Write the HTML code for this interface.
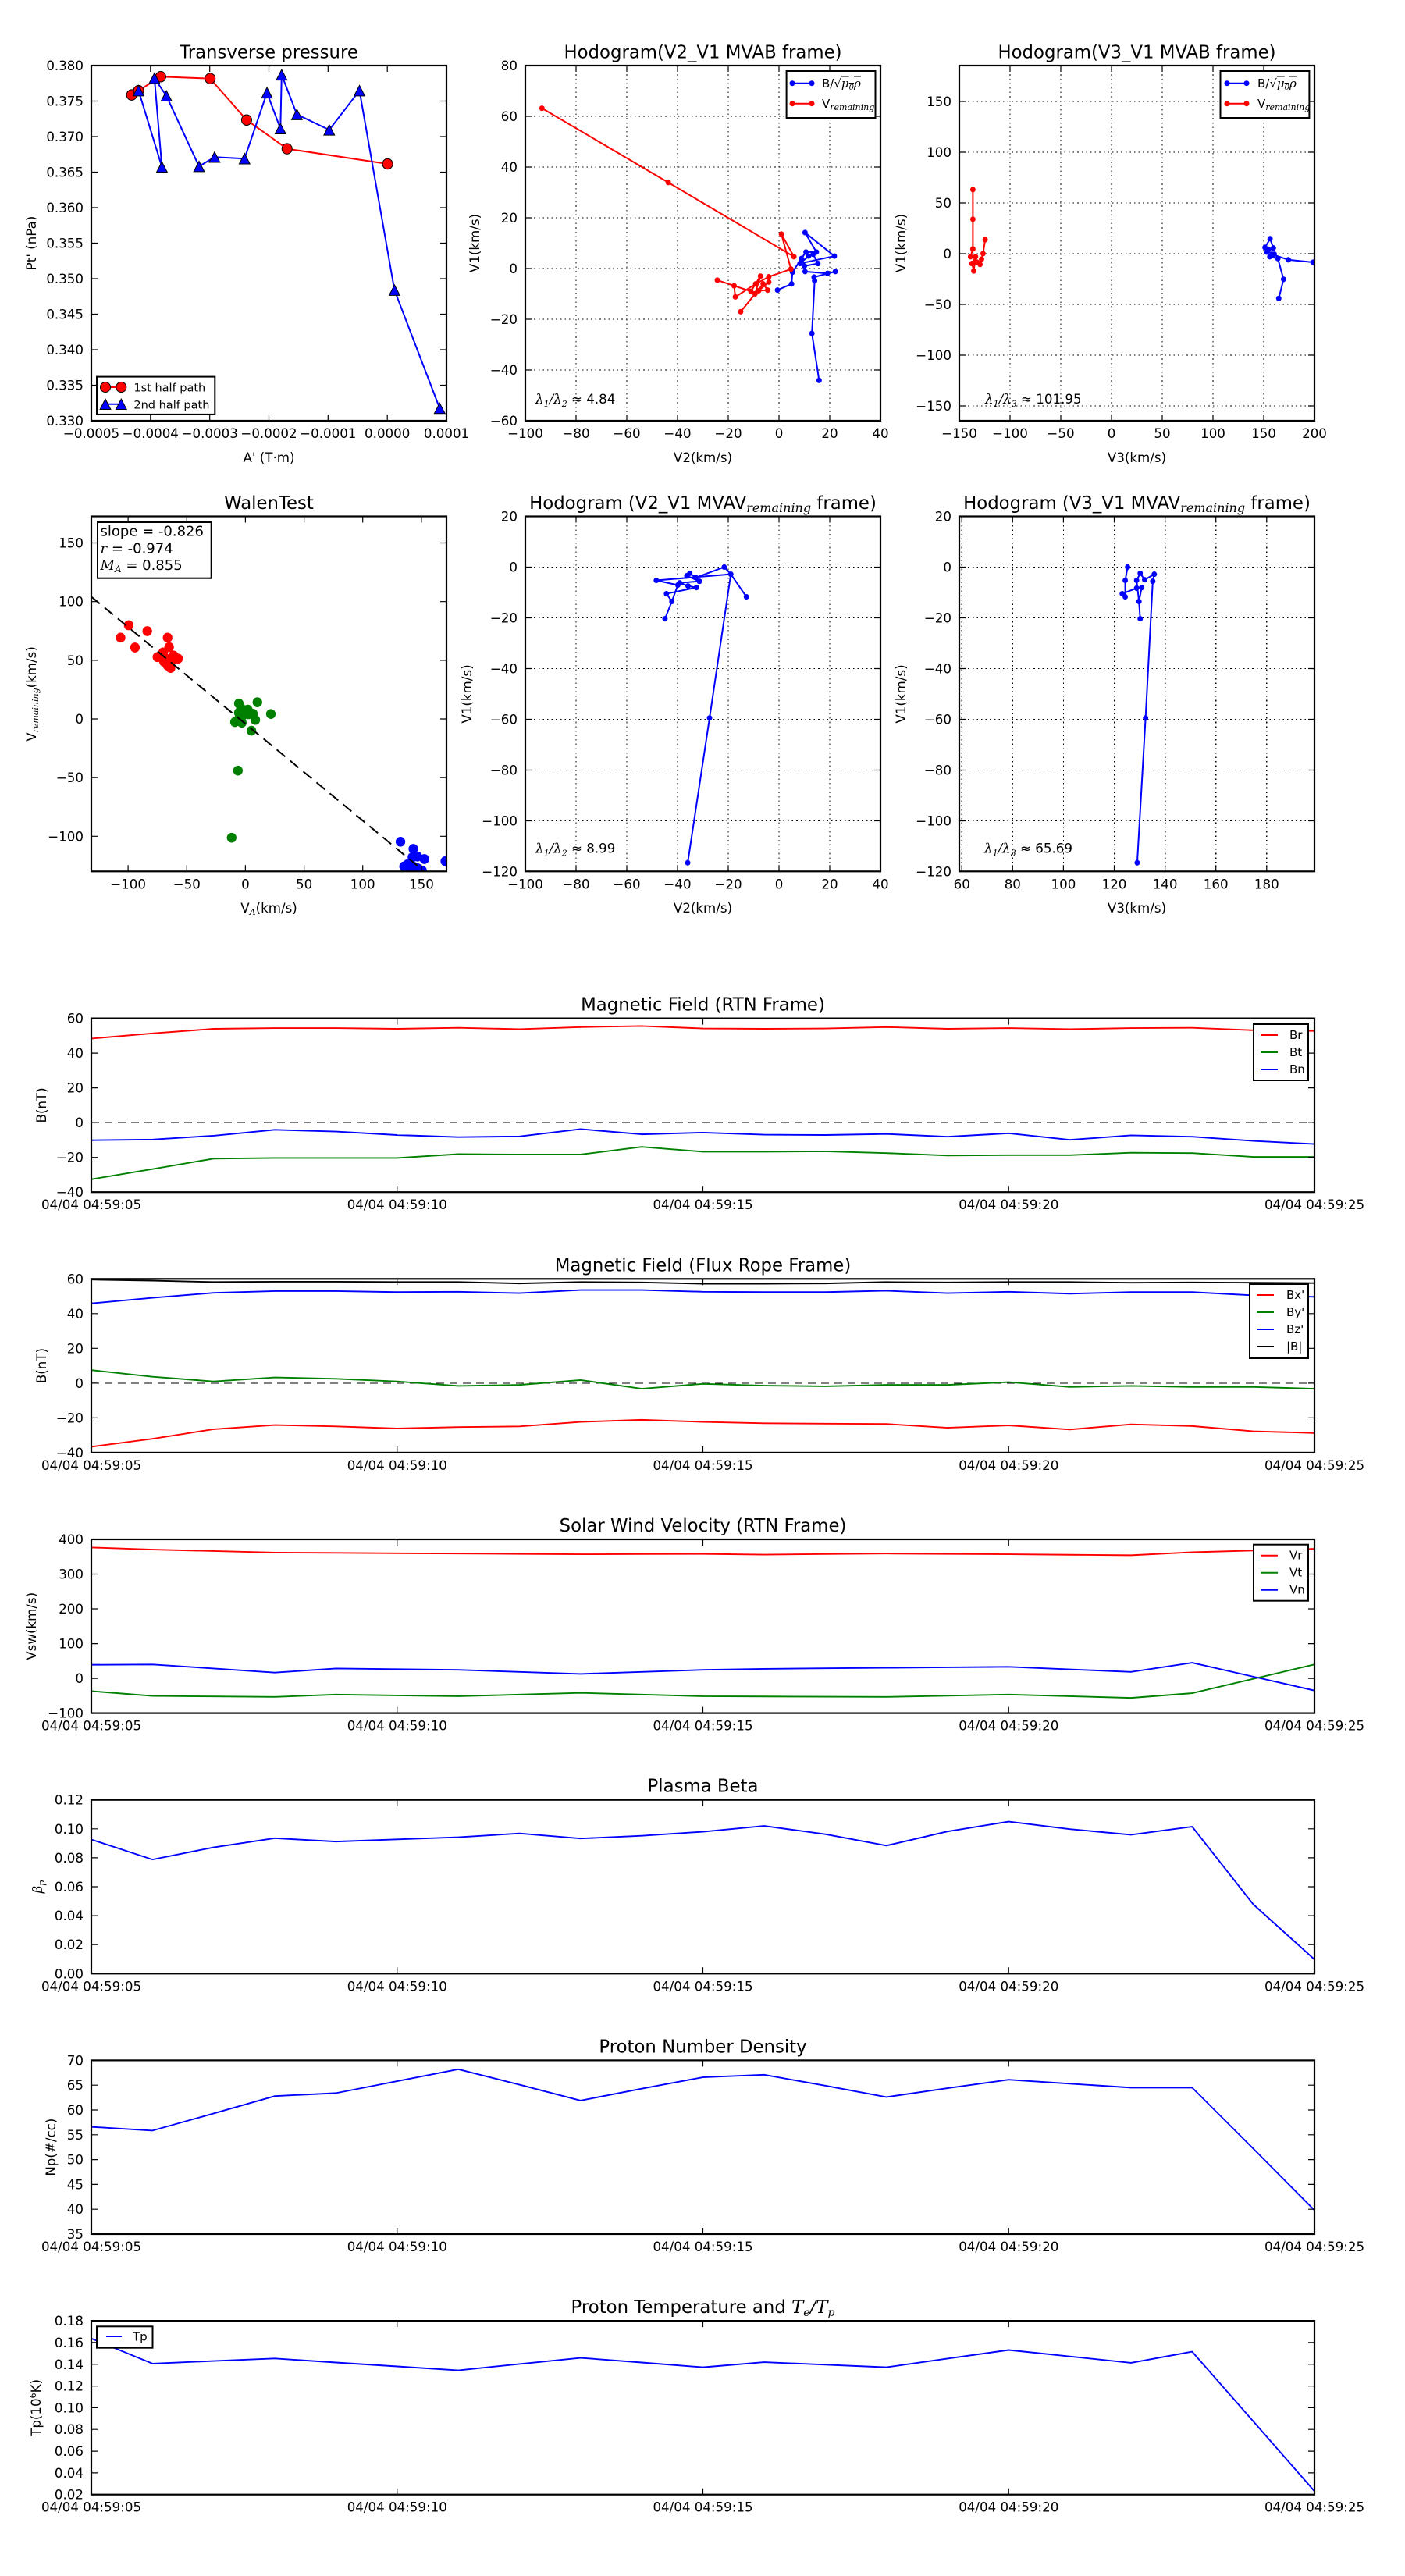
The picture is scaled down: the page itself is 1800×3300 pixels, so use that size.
<!DOCTYPE html>
<html><head><meta charset="utf-8"><style>
html,body{margin:0;padding:0;background:#fff}
svg{display:block}
text{font-family:"DejaVu Sans","Liberation Sans",sans-serif;font-size:16.67px;fill:#000}
.c{text-anchor:middle}.e{text-anchor:end}
.ttl{font-size:22.8px;text-anchor:middle}
.m{font-family:"DejaVu Serif","Liberation Serif",serif;font-style:italic}
.lg{font-size:15px}
.ax{fill:none;stroke:#000;stroke-width:2.2}
.tk{fill:none;stroke:#000;stroke-width:1.2}
.gd{fill:none;stroke:#000;stroke-width:1.3;stroke-dasharray:1.6 4;shape-rendering:crispEdges}
.zl{stroke:#000;stroke-width:1.3;stroke-dasharray:10 7;shape-rendering:crispEdges}
.ln{fill:none;stroke-width:1.9;vector-effect:non-scaling-stroke;stroke-linejoin:round}
.lw{fill:none;stroke-width:2;vector-effect:non-scaling-stroke;stroke-linejoin:round}
.r{stroke:#f00}.g{stroke:#008000}.b{stroke:#00f}.k{stroke:#000}
</style></head><body>
<svg xmlns="http://www.w3.org/2000/svg" width="1800" height="3300" viewBox="0 0 1800 3300">
<rect width="1800" height="3300" fill="#fff"/>
<defs>
<clipPath id="c1"><rect x="117" y="84" width="455" height="455"/></clipPath>
<clipPath id="c2"><rect x="673" y="84" width="455" height="455"/></clipPath>
<clipPath id="c3"><rect x="1229" y="84" width="455" height="455"/></clipPath>
<clipPath id="c4"><rect x="117" y="661.5" width="455" height="454.8"/></clipPath>
<clipPath id="c5"><rect x="673" y="661.5" width="455" height="454.8"/></clipPath>
<clipPath id="c6"><rect x="1229" y="661.5" width="455" height="454.8"/></clipPath>
<clipPath id="t1"><rect x="117" y="1304.6" width="1567" height="222.6"/></clipPath>
<clipPath id="t2"><rect x="117" y="1638.3" width="1567" height="222.6"/></clipPath>
<clipPath id="t3"><rect x="117" y="1972.0" width="1567" height="222.6"/></clipPath>
<clipPath id="t4"><rect x="117" y="2305.7" width="1567" height="222.6"/></clipPath>
<clipPath id="t5"><rect x="117" y="2639.4" width="1567" height="222.6"/></clipPath>
<clipPath id="t6"><rect x="117" y="2973.1" width="1567" height="222.6"/></clipPath>
<circle id="mc" r="17" fill="#f00" stroke="#000" stroke-width="1" vector-effect="non-scaling-stroke"/>
<path id="mt" d="M0,-17L-18,17L18,17Z" fill="#00f" stroke="#000" stroke-width="1" vector-effect="non-scaling-stroke"/>
<circle id="db" r="9" fill="#00f"/>
<circle id="dr" r="9" fill="#f00"/>
<circle id="wr" r="16" fill="#f00"/>
<circle id="wg" r="16" fill="#008000"/>
<circle id="wb" r="16" fill="#00f"/>
</defs>

<!-- ================= PANEL 1: Transverse pressure ================= -->
<text class="ttl" x="344.5" y="74.5">Transverse pressure</text>
<g clip-path="url(#c1)"><g transform="translate(0,0) scale(0.38344,0.39620)">
<polyline class="lw r" points="440,307 463,293 537,248 702,254 824,388 959,481 1295,530"/>
<use href="#mc" x="440" y="307"/><use href="#mc" x="463" y="293"/><use href="#mc" x="537" y="248"/><use href="#mc" x="702" y="254"/><use href="#mc" x="824" y="388"/><use href="#mc" x="959" y="481"/><use href="#mc" x="1295" y="530"/>
<polyline class="lw b" points="463,293 541,540 516,253 556,310 665,538 717,508 817,513 892,300 937,416 941,242 992,370 1100,420 1201,293 1318,938 1469,1320"/>
<use href="#mt" x="463" y="293"/><use href="#mt" x="541" y="540"/><use href="#mt" x="516" y="253"/><use href="#mt" x="556" y="310"/><use href="#mt" x="665" y="538"/><use href="#mt" x="717" y="508"/><use href="#mt" x="817" y="513"/><use href="#mt" x="892" y="300"/><use href="#mt" x="937" y="416"/><use href="#mt" x="941" y="242"/><use href="#mt" x="992" y="370"/><use href="#mt" x="1100" y="420"/><use href="#mt" x="1201" y="293"/><use href="#mt" x="1318" y="938"/><use href="#mt" x="1469" y="1320"/>
</g></g>
<path class="tk" d="M117 539v-8M192.8 539v-8M268.7 539v-8M344.5 539v-8M420.3 539v-8M496.2 539v-8M572 539v-8M117 84v8M192.8 84v8M268.7 84v8M344.5 84v8M420.3 84v8M496.2 84v8M572 84v8M117 539h8M117 493.5h8M117 448h8M117 402.5h8M117 357h8M117 311.5h8M117 266h8M117 220.5h8M117 175h8M117 129.5h8M117 84h8M572 539h-8M572 493.5h-8M572 448h-8M572 402.5h-8M572 357h-8M572 311.5h-8M572 266h-8M572 220.5h-8M572 175h-8M572 129.5h-8M572 84h-8"/>
<rect class="ax" x="117" y="84" width="455" height="455"/>
<g>
<rect x="124" y="482.6" width="151.3" height="48.3" fill="#fff" stroke="#000" stroke-width="2"/>
<line x1="135" y1="496" x2="155.3" y2="496" stroke="#f00" stroke-width="2"/>
<circle cx="135" cy="496" r="6.5" fill="#f00" stroke="#000" stroke-width="1"/><circle cx="155.3" cy="496" r="6.5" fill="#f00" stroke="#000" stroke-width="1"/>
<text x="171.4" y="501.5" style="font-size:14.5px">1st half path</text>
<line x1="135" y1="517.8" x2="155.3" y2="517.8" stroke="#00f" stroke-width="2"/>
<path d="M135,511.1L128.1,524.5L141.9,524.5ZM155.3,511.1L148.4,524.5L162.2,524.5Z" fill="#00f" stroke="#000" stroke-width="1"/>
<text x="171.4" y="523.3" style="font-size:14.5px">2nd half path</text>
</g>
<text class="c" x="117" y="561">&#8722;0.0005</text><text class="c" x="192.8" y="561">&#8722;0.0004</text><text class="c" x="268.7" y="561">&#8722;0.0003</text><text class="c" x="344.5" y="561">&#8722;0.0002</text><text class="c" x="420.3" y="561">&#8722;0.0001</text><text class="c" x="496.2" y="561">0.0000</text><text class="c" x="572" y="561">0.0001</text>
<text class="e" x="107" y="545">0.330</text><text class="e" x="107" y="499.5">0.335</text><text class="e" x="107" y="454">0.340</text><text class="e" x="107" y="408.5">0.345</text><text class="e" x="107" y="363">0.350</text><text class="e" x="107" y="317.5">0.355</text><text class="e" x="107" y="272">0.360</text><text class="e" x="107" y="226.5">0.365</text><text class="e" x="107" y="181">0.370</text><text class="e" x="107" y="135.5">0.375</text><text class="e" x="107" y="90">0.380</text>
<text class="c" x="344.5" y="592">A' (T&#183;m)</text>
<text class="c" transform="translate(40,311.5) rotate(-90)" y="6">Pt' (nPa)</text>

<!-- ================= PANEL 2: Hodogram V2_V1 MVAB ================= -->
<text class="ttl" x="900.5" y="74.5">Hodogram(V2_V1 MVAB frame)</text>
<path class="gd" d="M738 84V539M803 84V539M868 84V539M933 84V539M998 84V539M1063 84V539M673 149H1128M673 214H1128M673 279H1128M673 344H1128M673 409H1128M673 474H1128"/>
<g clip-path="url(#c2)"><g transform="translate(600,0) scale(0.38344,0.39620)">
<polyline class="lw b" points="1033,938 1080,918 1083,880 1113,836 1128,815 1163,815 1125,752 1223,828 1108,852 1137,828 1152,822 1168,852 1123,860 1125,878 1200,884 1226,878 1155,896 1157,908 1148,1078 1172,1230"/>
<use href="#db" x="1033" y="938"/><use href="#db" x="1080" y="918"/><use href="#db" x="1083" y="880"/><use href="#db" x="1113" y="836"/><use href="#db" x="1128" y="815"/><use href="#db" x="1163" y="815"/><use href="#db" x="1125" y="752"/><use href="#db" x="1223" y="828"/><use href="#db" x="1108" y="852"/><use href="#db" x="1137" y="828"/><use href="#db" x="1152" y="822"/><use href="#db" x="1168" y="852"/><use href="#db" x="1123" y="860"/><use href="#db" x="1125" y="878"/><use href="#db" x="1200" y="884"/><use href="#db" x="1226" y="878"/><use href="#db" x="1155" y="896"/><use href="#db" x="1157" y="908"/><use href="#db" x="1148" y="1078"/><use href="#db" x="1172" y="1230"/>
<polyline class="lw r" points="246,350 668,590 1088,830 1046,757 1078,870 1004,895 960,918 892,960 888,924 832,906 944,942 976,893 958,950 910,1008 985,918 1000,938 970,940 1004,912"/>
<use href="#dr" x="246" y="350"/><use href="#dr" x="668" y="590"/><use href="#dr" x="1088" y="830"/><use href="#dr" x="1046" y="757"/><use href="#dr" x="1078" y="870"/><use href="#dr" x="1004" y="895"/><use href="#dr" x="960" y="918"/><use href="#dr" x="892" y="960"/><use href="#dr" x="888" y="924"/><use href="#dr" x="832" y="906"/><use href="#dr" x="944" y="942"/><use href="#dr" x="976" y="893"/><use href="#dr" x="958" y="950"/><use href="#dr" x="910" y="1008"/><use href="#dr" x="985" y="918"/><use href="#dr" x="1000" y="938"/><use href="#dr" x="970" y="940"/><use href="#dr" x="1004" y="912"/>
</g></g>
<path class="tk" d="M673 539v-8M738 539v-8M803 539v-8M868 539v-8M933 539v-8M998 539v-8M1063 539v-8M1128 539v-8M673 84v8M738 84v8M803 84v8M868 84v8M933 84v8M998 84v8M1063 84v8M1128 84v8M673 84h8M673 149h8M673 214h8M673 279h8M673 344h8M673 409h8M673 474h8M673 539h8M1128 84h-8M1128 149h-8M1128 214h-8M1128 279h-8M1128 344h-8M1128 409h-8M1128 474h-8M1128 539h-8"/>
<rect class="ax" x="673" y="84" width="455" height="455"/>
<rect x="1007.6" y="91" width="113.9" height="60" fill="#fff" stroke="#000" stroke-width="2"/>
<line x1="1015" y1="106.7" x2="1040" y2="106.7" stroke="#00f" stroke-width="2"/><circle cx="1015" cy="106.7" r="3.5" fill="#00f"/><circle cx="1040" cy="106.7" r="3.5" fill="#00f"/>
<text class="lg" x="1053" y="112">B/<tspan class="m">&#8730;</tspan><tspan class="m" text-decoration="overline">&#956;<tspan font-size="10" dy="3">0</tspan><tspan dy="-3">&#961;</tspan></tspan></text>
<line x1="1015" y1="132.7" x2="1040" y2="132.7" stroke="#f00" stroke-width="2"/><circle cx="1015" cy="132.7" r="3.5" fill="#f00"/><circle cx="1040" cy="132.7" r="3.5" fill="#f00"/>
<text class="lg" x="1053" y="138">V<tspan class="m" font-size="11" dy="3">remaining</tspan></text>
<text x="686" y="517"><tspan class="m">&#955;</tspan><tspan class="m" font-size="11" dy="4">1</tspan><tspan class="m" dy="-4">/&#955;</tspan><tspan class="m" font-size="11" dy="4">2</tspan><tspan dy="-4"> &#8776; 4.84</tspan></text>
<text class="c" x="673" y="561">&#8722;100</text><text class="c" x="738" y="561">&#8722;80</text><text class="c" x="803" y="561">&#8722;60</text><text class="c" x="868" y="561">&#8722;40</text><text class="c" x="933" y="561">&#8722;20</text><text class="c" x="998" y="561">0</text><text class="c" x="1063" y="561">20</text><text class="c" x="1128" y="561">40</text>
<text class="e" x="663" y="90">80</text><text class="e" x="663" y="155">60</text><text class="e" x="663" y="220">40</text><text class="e" x="663" y="285">20</text><text class="e" x="663" y="350">0</text><text class="e" x="663" y="415">&#8722;20</text><text class="e" x="663" y="480">&#8722;40</text><text class="e" x="663" y="545">&#8722;60</text>
<text class="c" x="900.5" y="592">V2(km/s)</text>
<text class="c" transform="translate(608,311.5) rotate(-90)" y="6">V1(km/s)</text>

<!-- ================= PANEL 3: Hodogram V3_V1 MVAB ================= -->
<text class="ttl" x="1456.5" y="74.5">Hodogram(V3_V1 MVAB frame)</text>
<path class="gd" d="M1294 84V539M1359 84V539M1424 84V539M1489 84V539M1554 84V539M1619 84V539M1229 130H1684M1229 195H1684M1229 260H1684M1229 325H1684M1229 390H1684M1229 455H1684M1229 520H1684"/>
<g clip-path="url(#c3)"><g transform="translate(1200,0) scale(0.38344,0.39620)">
<polyline class="lw b" points="1258,848 1175,840 1120,822 1097,800 1114,772 1125,802 1103,815 1113,830 1140,836 1159,903 1143,965"/>
<use href="#db" x="1258" y="848"/><use href="#db" x="1175" y="840"/><use href="#db" x="1120" y="822"/><use href="#db" x="1097" y="800"/><use href="#db" x="1114" y="772"/><use href="#db" x="1125" y="802"/><use href="#db" x="1103" y="815"/><use href="#db" x="1113" y="830"/><use href="#db" x="1140" y="836"/><use href="#db" x="1159" y="903"/><use href="#db" x="1143" y="965"/><use href="#db" x="1108" y="806"/><use href="#db" x="1128" y="822"/>
<polyline class="lw r" points="121,613 121,709 121,805 113,830 130,830 118,852 124,876 128,845 135,848 145,855 150,838 155,820 162,775"/>
<use href="#dr" x="121" y="613"/><use href="#dr" x="121" y="709"/><use href="#dr" x="121" y="805"/><use href="#dr" x="113" y="830"/><use href="#dr" x="130" y="830"/><use href="#dr" x="118" y="852"/><use href="#dr" x="124" y="876"/><use href="#dr" x="128" y="845"/><use href="#dr" x="135" y="848"/><use href="#dr" x="145" y="855"/><use href="#dr" x="150" y="838"/><use href="#dr" x="155" y="820"/><use href="#dr" x="162" y="775"/>
</g></g>
<path class="tk" d="M1229 539v-8M1294 539v-8M1359 539v-8M1424 539v-8M1489 539v-8M1554 539v-8M1619 539v-8M1684 539v-8M1229 84v8M1294 84v8M1359 84v8M1424 84v8M1489 84v8M1554 84v8M1619 84v8M1684 84v8M1229 130h8M1229 195h8M1229 260h8M1229 325h8M1229 390h8M1229 455h8M1229 520h8M1684 130h-8M1684 195h-8M1684 260h-8M1684 325h-8M1684 390h-8M1684 455h-8M1684 520h-8"/>
<rect class="ax" x="1229" y="84" width="455" height="455"/>
<rect x="1563.5" y="91" width="113.9" height="60" fill="#fff" stroke="#000" stroke-width="2"/>
<line x1="1572" y1="106.7" x2="1597" y2="106.7" stroke="#00f" stroke-width="2"/><circle cx="1572" cy="106.7" r="3.5" fill="#00f"/><circle cx="1597" cy="106.7" r="3.5" fill="#00f"/>
<text class="lg" x="1611" y="112">B/<tspan class="m">&#8730;</tspan><tspan class="m" text-decoration="overline">&#956;<tspan font-size="10" dy="3">0</tspan><tspan dy="-3">&#961;</tspan></tspan></text>
<line x1="1572" y1="132.7" x2="1597" y2="132.7" stroke="#f00" stroke-width="2"/><circle cx="1572" cy="132.7" r="3.5" fill="#f00"/><circle cx="1597" cy="132.7" r="3.5" fill="#f00"/>
<text class="lg" x="1611" y="138">V<tspan class="m" font-size="11" dy="3">remaining</tspan></text>
<text x="1262" y="517"><tspan class="m">&#955;</tspan><tspan class="m" font-size="11" dy="4">1</tspan><tspan class="m" dy="-4">/&#955;</tspan><tspan class="m" font-size="11" dy="4">3</tspan><tspan dy="-4"> &#8776; 101.95</tspan></text>
<text class="c" x="1229" y="561">&#8722;150</text><text class="c" x="1294" y="561">&#8722;100</text><text class="c" x="1359" y="561">&#8722;50</text><text class="c" x="1424" y="561">0</text><text class="c" x="1489" y="561">50</text><text class="c" x="1554" y="561">100</text><text class="c" x="1619" y="561">150</text><text class="c" x="1684" y="561">200</text>
<text class="e" x="1219" y="136">150</text><text class="e" x="1219" y="201">100</text><text class="e" x="1219" y="266">50</text><text class="e" x="1219" y="331">0</text><text class="e" x="1219" y="396">&#8722;50</text><text class="e" x="1219" y="461">&#8722;100</text><text class="e" x="1219" y="526">&#8722;150</text>
<text class="c" x="1456.5" y="592">V3(km/s)</text>
<text class="c" transform="translate(1154,311.5) rotate(-90)" y="6">V1(km/s)</text>

<!-- ================= PANEL 4: WalenTest ================= -->
<text class="ttl" x="344.5" y="652">WalenTest</text>
<g clip-path="url(#c4)">
<g transform="translate(0,610) scale(0.38344,0.39620)">
<use href="#wr" x="403" y="522"/><use href="#wr" x="430" y="482"/><use href="#wr" x="492" y="501"/><use href="#wr" x="451" y="554"/><use href="#wr" x="560" y="522"/><use href="#wr" x="565" y="553"/><use href="#wr" x="526" y="585"/><use href="#wr" x="545" y="570"/><use href="#wr" x="555" y="590"/><use href="#wr" x="580" y="580"/><use href="#wr" x="595" y="590"/><use href="#wr" x="560" y="612"/><use href="#wr" x="570" y="620"/><use href="#wr" x="548" y="600"/><use href="#wr" x="540" y="580"/><use href="#wr" x="575" y="595"/>
<use href="#wg" x="798" y="735"/><use href="#wg" x="860" y="731"/><use href="#wg" x="905" y="769"/><use href="#wg" x="785" y="795"/><use href="#wg" x="808" y="797"/><use href="#wg" x="853" y="788"/><use href="#wg" x="840" y="823"/><use href="#wg" x="795" y="952"/><use href="#wg" x="774" y="1169"/><use href="#wg" x="805" y="750"/><use href="#wg" x="815" y="760"/><use href="#wg" x="828" y="755"/><use href="#wg" x="845" y="768"/><use href="#wg" x="798" y="765"/><use href="#wg" x="810" y="775"/><use href="#wg" x="830" y="770"/><use href="#wg" x="800" y="780"/>
<use href="#wb" x="1338" y="1182"/><use href="#wb" x="1381" y="1205"/><use href="#wb" x="1378" y="1232"/><use href="#wb" x="1395" y="1230"/><use href="#wb" x="1418" y="1238"/><use href="#wb" x="1488" y="1245"/><use href="#wb" x="1362" y="1255"/><use href="#wb" x="1380" y="1262"/><use href="#wb" x="1395" y="1268"/><use href="#wb" x="1360" y="1270"/><use href="#wb" x="1372" y="1275"/><use href="#wb" x="1350" y="1262"/><use href="#wb" x="1410" y="1275"/>
</g>
<line x1="117" y1="764.4" x2="546" y2="1118.3" stroke="#000" stroke-width="2" stroke-dasharray="14 8"/>
</g>
<path class="tk" d="M164.1 1116.3v-8M239.3 1116.3v-8M314.4 1116.3v-8M389.6 1116.3v-8M464.7 1116.3v-8M539.9 1116.3v-8M164.1 661.5v8M239.3 661.5v8M314.4 661.5v8M389.6 661.5v8M464.7 661.5v8M539.9 661.5v8M117 695.5h8M117 770.7h8M117 845.9h8M117 921h8M117 996.2h8M117 1071.3h8M572 695.5h-8M572 770.7h-8M572 845.9h-8M572 921h-8M572 996.2h-8M572 1071.3h-8"/>
<rect class="ax" x="117" y="661.5" width="455" height="454.8"/>
<rect x="125" y="669" width="145.7" height="71.7" fill="#fff" stroke="#000" stroke-width="2"/>
<text x="128.5" y="686.5" style="font-size:18px">slope = -0.826</text>
<text x="128.5" y="708.3" style="font-size:18px"><tspan class="m">r</tspan> = -0.974</text>
<text x="128.5" y="730" style="font-size:18px"><tspan class="m">M</tspan><tspan class="m" font-size="12" dy="3">A</tspan><tspan dy="-3"> = 0.855</tspan></text>
<text class="c" x="164.1" y="1138.3">&#8722;100</text><text class="c" x="239.3" y="1138.3">&#8722;50</text><text class="c" x="314.4" y="1138.3">0</text><text class="c" x="389.6" y="1138.3">50</text><text class="c" x="464.7" y="1138.3">100</text><text class="c" x="539.9" y="1138.3">150</text>
<text class="e" x="107" y="701.5">150</text><text class="e" x="107" y="776.7">100</text><text class="e" x="107" y="851.9">50</text><text class="e" x="107" y="927">0</text><text class="e" x="107" y="1002.2">&#8722;50</text><text class="e" x="107" y="1077.3">&#8722;100</text>
<text class="c" x="344.5" y="1169">V<tspan class="m" font-size="11" dy="3">A</tspan><tspan dy="-3">(km/s)</tspan></text>
<text class="c" transform="translate(40,889) rotate(-90)" y="6">V<tspan class="m" font-size="11" dy="3">remaining</tspan><tspan dy="-3">(km/s)</tspan></text>

<!-- ================= PANEL 5: Hodogram V2_V1 MVAV ================= -->
<text class="ttl" x="900.5" y="652">Hodogram (V2_V1 MVAV<tspan class="m" font-size="16" dy="4">remaining</tspan><tspan dy="-4"> frame)</tspan></text>
<path class="gd" d="M738 661.5V1116.3M803 661.5V1116.3M868 661.5V1116.3M933 661.5V1116.3M998 661.5V1116.3M1063 661.5V1116.3M673 726.5H1128M673 791.5H1128M673 856.5H1128M673 921.5H1128M673 986.5H1128M673 1051.5H1128"/>
<g clip-path="url(#c5)"><g transform="translate(600,610) scale(0.38344,0.39620)">
<polyline class="lw b" points="929,390 877,317 855,294 760,328 740,314 730,322 772,340 706,345 734,355 762,360 662,380 680,405 657,461 680,405 700,352 628,337 877,317 806,782 733,1250"/>
<use href="#db" x="929" y="390"/><use href="#db" x="877" y="317"/><use href="#db" x="855" y="294"/><use href="#db" x="760" y="328"/><use href="#db" x="740" y="314"/><use href="#db" x="730" y="322"/><use href="#db" x="772" y="340"/><use href="#db" x="706" y="345"/><use href="#db" x="734" y="355"/><use href="#db" x="762" y="360"/><use href="#db" x="662" y="380"/><use href="#db" x="680" y="405"/><use href="#db" x="657" y="461"/><use href="#db" x="700" y="352"/><use href="#db" x="628" y="337"/><use href="#db" x="806" y="782"/><use href="#db" x="733" y="1250"/>
</g></g>
<path class="tk" d="M673 1116.3v-8M738 1116.3v-8M803 1116.3v-8M868 1116.3v-8M933 1116.3v-8M998 1116.3v-8M1063 1116.3v-8M1128 1116.3v-8M673 661.5v8M738 661.5v8M803 661.5v8M868 661.5v8M933 661.5v8M998 661.5v8M1063 661.5v8M1128 661.5v8M673 726.5h8M673 791.5h8M673 856.5h8M673 921.5h8M673 986.5h8M673 1051.5h8M1128 726.5h-8M1128 791.5h-8M1128 856.5h-8M1128 921.5h-8M1128 986.5h-8M1128 1051.5h-8"/>
<rect class="ax" x="673" y="661.5" width="455" height="454.8"/>
<text x="686" y="1092.6"><tspan class="m">&#955;</tspan><tspan class="m" font-size="11" dy="4">1</tspan><tspan class="m" dy="-4">/&#955;</tspan><tspan class="m" font-size="11" dy="4">2</tspan><tspan dy="-4"> &#8776; 8.99</tspan></text>
<text class="c" x="673" y="1138.3">&#8722;100</text><text class="c" x="738" y="1138.3">&#8722;80</text><text class="c" x="803" y="1138.3">&#8722;60</text><text class="c" x="868" y="1138.3">&#8722;40</text><text class="c" x="933" y="1138.3">&#8722;20</text><text class="c" x="998" y="1138.3">0</text><text class="c" x="1063" y="1138.3">20</text><text class="c" x="1128" y="1138.3">40</text>
<text class="e" x="663" y="667.5">20</text><text class="e" x="663" y="732.5">0</text><text class="e" x="663" y="797.5">&#8722;20</text><text class="e" x="663" y="862.5">&#8722;40</text><text class="e" x="663" y="927.5">&#8722;60</text><text class="e" x="663" y="992.5">&#8722;80</text><text class="e" x="663" y="1057.5">&#8722;100</text><text class="e" x="663" y="1122.5">&#8722;120</text>
<text class="c" x="900.5" y="1169">V2(km/s)</text>
<text class="c" transform="translate(598,889) rotate(-90)" y="6">V1(km/s)</text>

<!-- ================= PANEL 6: Hodogram V3_V1 MVAV ================= -->
<text class="ttl" x="1456.5" y="652">Hodogram (V3_V1 MVAV<tspan class="m" font-size="16" dy="4">remaining</tspan><tspan dy="-4"> frame)</tspan></text>
<path class="gd" d="M1232.2 661.5V1116.3M1297.3 661.5V1116.3M1362.4 661.5V1116.3M1427.5 661.5V1116.3M1492.6 661.5V1116.3M1557.7 661.5V1116.3M1622.8 661.5V1116.3M1229 726.5H1684M1229 791.5H1684M1229 856.5H1684M1229 921.5H1684M1229 986.5H1684M1229 1051.5H1684"/>
<g clip-path="url(#c6)"><g transform="translate(1200,610) scale(0.38344,0.39620)">
<polyline class="lw b" points="638,294 630,337 630,390 620,380 668,362 685,360 676,405 680,461 676,405 668,337 680,314 695,335 727,317 722,340 698,782 670,1250"/>
<use href="#db" x="638" y="294"/><use href="#db" x="630" y="337"/><use href="#db" x="630" y="390"/><use href="#db" x="620" y="380"/><use href="#db" x="668" y="362"/><use href="#db" x="685" y="360"/><use href="#db" x="676" y="405"/><use href="#db" x="680" y="461"/><use href="#db" x="668" y="337"/><use href="#db" x="680" y="314"/><use href="#db" x="695" y="335"/><use href="#db" x="727" y="317"/><use href="#db" x="722" y="340"/><use href="#db" x="698" y="782"/><use href="#db" x="670" y="1250"/>
</g></g>
<path class="tk" d="M1232.2 1116.3v-8M1297.3 1116.3v-8M1362.4 1116.3v-8M1427.5 1116.3v-8M1492.6 1116.3v-8M1557.7 1116.3v-8M1622.8 1116.3v-8M1232.2 661.5v8M1297.3 661.5v8M1362.4 661.5v8M1427.5 661.5v8M1492.6 661.5v8M1557.7 661.5v8M1622.8 661.5v8M1229 726.5h8M1229 791.5h8M1229 856.5h8M1229 921.5h8M1229 986.5h8M1229 1051.5h8M1684 726.5h-8M1684 791.5h-8M1684 856.5h-8M1684 921.5h-8M1684 986.5h-8M1684 1051.5h-8"/>
<rect class="ax" x="1229" y="661.5" width="455" height="454.8"/>
<text x="1261" y="1092.6"><tspan class="m">&#955;</tspan><tspan class="m" font-size="11" dy="4">1</tspan><tspan class="m" dy="-4">/&#955;</tspan><tspan class="m" font-size="11" dy="4">3</tspan><tspan dy="-4"> &#8776; 65.69</tspan></text>
<text class="c" x="1232.2" y="1138.3">60</text><text class="c" x="1297.3" y="1138.3">80</text><text class="c" x="1362.4" y="1138.3">100</text><text class="c" x="1427.5" y="1138.3">120</text><text class="c" x="1492.6" y="1138.3">140</text><text class="c" x="1557.7" y="1138.3">160</text><text class="c" x="1622.8" y="1138.3">180</text>
<text class="e" x="1219" y="667.5">20</text><text class="e" x="1219" y="732.5">0</text><text class="e" x="1219" y="797.5">&#8722;20</text><text class="e" x="1219" y="862.5">&#8722;40</text><text class="e" x="1219" y="927.5">&#8722;60</text><text class="e" x="1219" y="992.5">&#8722;80</text><text class="e" x="1219" y="1057.5">&#8722;100</text><text class="e" x="1219" y="1122.5">&#8722;120</text>
<text class="c" x="1456.5" y="1169">V3(km/s)</text>
<text class="c" transform="translate(1154,889) rotate(-90)" y="6">V1(km/s)</text>

<!-- ================= TS1: Magnetic Field (RTN) ================= -->
<text class="ttl" x="900.5" y="1294.6">Magnetic Field (RTN Frame)</text>
<line class="zl" x1="117" y1="1438.2" x2="1684" y2="1438.2"/>
<g clip-path="url(#t1)"><g transform="translate(117,1438.2) scale(78.35,-2.226)">
<polyline class="ln r" points="0,48.4 1,51.4 2,54 3,54.4 4,54.4 5,54 6,54.6 7,53.8 8,55 9,55.6 10,54.2 11,54 12,54.2 13,55 14,54 15,54.4 16,53.8 17,54.4 18,54.6 19,53.2 20,52.8"/>
<polyline class="ln g" points="0,-32.6 1,-26.7 2,-20.7 3,-20.3 4,-20.3 5,-20.3 6,-18.1 7,-18.3 8,-18.3 9,-13.9 10,-16.7 11,-16.7 12,-16.5 13,-17.5 14,-18.9 15,-18.7 16,-18.7 17,-17.3 18,-17.5 19,-19.7 20,-19.7"/>
<polyline class="ln b" points="0,-10.1 1,-9.7 2,-7.5 3,-4.1 4,-5.1 5,-7.1 6,-8.3 7,-7.9 8,-3.7 9,-6.7 10,-5.7 11,-6.9 12,-7.1 13,-6.5 14,-8.1 15,-6.1 16,-9.9 17,-7.3 18,-8.1 19,-10.5 20,-12.3"/>
</g></g>
<path class="tk" d="M117 1527.2v-8M508.75 1527.2v-8M900.5 1527.2v-8M1292.25 1527.2v-8M1684 1527.2v-8M117 1304.6v8M508.75 1304.6v8M900.5 1304.6v8M1292.25 1304.6v8M1684 1304.6v8M117 1349.1h8M117 1393.6h8M117 1438.2h8M117 1482.7h8M1684 1349.1h-8M1684 1393.6h-8M1684 1438.2h-8M1684 1482.7h-8"/>
<rect class="ax" x="117" y="1304.6" width="1567" height="222.6"/>
<rect x="1606" y="1312" width="70" height="72" fill="#fff" stroke="#000" stroke-width="2"/>
<line x1="1615" y1="1326" x2="1637" y2="1326" stroke="#f00" stroke-width="2"/><text class="lg" x="1652" y="1331">Br</text>
<line x1="1615" y1="1348" x2="1637" y2="1348" stroke="#008000" stroke-width="2"/><text class="lg" x="1652" y="1353">Bt</text>
<line x1="1615" y1="1370" x2="1637" y2="1370" stroke="#00f" stroke-width="2"/><text class="lg" x="1652" y="1375">Bn</text>
<text class="e" x="107" y="1310.6">60</text><text class="e" x="107" y="1355.1">40</text><text class="e" x="107" y="1399.6">20</text><text class="e" x="107" y="1444.2">0</text><text class="e" x="107" y="1488.7">&#8722;20</text><text class="e" x="107" y="1533.2">&#8722;40</text>
<text class="c" x="117" y="1549.2">04/04 04:59:05</text><text class="c" x="508.75" y="1549.2">04/04 04:59:10</text><text class="c" x="900.5" y="1549.2">04/04 04:59:15</text><text class="c" x="1292.25" y="1549.2">04/04 04:59:20</text><text class="c" x="1684" y="1549.2">04/04 04:59:25</text>
<text class="c" transform="translate(53,1415.9) rotate(-90)" y="6">B(nT)</text>

<!-- ================= TS2: Magnetic Field (Flux Rope) ================= -->
<text class="ttl" x="900.5" y="1628.3">Magnetic Field (Flux Rope Frame)</text>
<line class="zl" x1="117" y1="1771.9" x2="1684" y2="1771.9"/>
<g clip-path="url(#t2)"><g transform="translate(117,1771.9) scale(78.35,-2.226)">
<polyline class="ln r" points="0,-36.6 1,-32 2,-26.5 3,-24.1 4,-24.9 5,-26.1 6,-25.3 7,-24.9 8,-22.3 9,-21.1 10,-22.3 11,-23.1 12,-23.3 13,-23.5 14,-25.7 15,-24.3 16,-26.7 17,-23.7 18,-24.7 19,-27.7 20,-28.7"/>
<polyline class="ln g" points="0,7.5 1,3.7 2,1 3,3.3 4,2.5 5,1 6,-1.6 7,-1 8,1.8 9,-3.2 10,-0.4 11,-1.4 12,-1.8 13,-1 14,-1 15,0.6 16,-2.2 17,-1.6 18,-2.2 19,-2.2 20,-3.2"/>
<polyline class="ln b" points="0,45.9 1,49.1 2,52 3,53 4,53 5,52.4 6,52.6 7,51.8 8,53.6 9,53.6 10,52.6 11,52.4 12,52.4 13,53.2 14,51.8 15,52.6 16,51.5 17,52.4 18,52.4 19,50.5 20,49.7"/>
<polyline class="ln k" points="0,59.6 1,59 2,58.2 3,58.4 4,58.4 5,58.2 6,58.2 7,57.4 8,58.2 9,58 10,57.2 11,57.2 12,57.4 13,58.2 14,58 15,58.2 16,58.2 17,57.8 18,58 19,57.8 20,57.6"/>
</g></g>
<path class="tk" d="M117 1860.9v-8M508.75 1860.9v-8M900.5 1860.9v-8M1292.25 1860.9v-8M1684 1860.9v-8M117 1638.3v8M508.75 1638.3v8M900.5 1638.3v8M1292.25 1638.3v8M1684 1638.3v8M117 1682.8h8M117 1727.3h8M117 1771.9h8M117 1816.4h8M1684 1682.8h-8M1684 1727.3h-8M1684 1771.9h-8M1684 1816.4h-8"/>
<rect class="ax" x="117" y="1638.3" width="1567" height="222.6"/>
<rect x="1601" y="1645" width="75" height="95" fill="#fff" stroke="#000" stroke-width="2"/>
<line x1="1610" y1="1659" x2="1632" y2="1659" stroke="#f00" stroke-width="2"/><text class="lg" x="1648" y="1664">Bx'</text>
<line x1="1610" y1="1681" x2="1632" y2="1681" stroke="#008000" stroke-width="2"/><text class="lg" x="1648" y="1686">By'</text>
<line x1="1610" y1="1703" x2="1632" y2="1703" stroke="#00f" stroke-width="2"/><text class="lg" x="1648" y="1708">Bz'</text>
<line x1="1610" y1="1725" x2="1632" y2="1725" stroke="#000" stroke-width="2"/><text class="lg" x="1648" y="1730">|B|</text>
<text class="e" x="107" y="1644.3">60</text><text class="e" x="107" y="1688.8">40</text><text class="e" x="107" y="1733.3">20</text><text class="e" x="107" y="1777.9">0</text><text class="e" x="107" y="1822.4">&#8722;20</text><text class="e" x="107" y="1866.9">&#8722;40</text>
<text class="c" x="117" y="1882.9">04/04 04:59:05</text><text class="c" x="508.75" y="1882.9">04/04 04:59:10</text><text class="c" x="900.5" y="1882.9">04/04 04:59:15</text><text class="c" x="1292.25" y="1882.9">04/04 04:59:20</text><text class="c" x="1684" y="1882.9">04/04 04:59:25</text>
<text class="c" transform="translate(53,1749.6) rotate(-90)" y="6">B(nT)</text>

<!-- ================= TS3: Solar Wind Velocity ================= -->
<text class="ttl" x="900.5" y="1962">Solar Wind Velocity (RTN Frame)</text>
<g clip-path="url(#t3)"><g transform="translate(117,2150.1) scale(78.35,-0.4452)">
<polyline class="ln r" points="0,376.7 1,370.8 2,366.4 3,362.1 4,361.1 5,360.1 6,359.1 7,358.2 8,357.2 9,357.7 10,358.2 11,356.2 12,357.7 13,359.1 14,358.2 15,357.2 16,355.7 17,354.3 18,363 19,367.9 20,372.8"/>
<polyline class="ln g" points="0,-36.8 1,-50.4 2,-51.9 3,-53.3 4,-46.5 5,-49 6,-51.4 7,-46.5 8,-41.7 9,-46.5 10,-51.4 11,-52 12,-52.7 13,-53.3 14,-49.9 15,-46.5 16,-51.4 17,-56.2 18,-42.6 19,-1.3 20,40"/>
<polyline class="ln b" points="0,39.1 1,40 2,28.4 3,16.7 4,28.4 5,26.5 6,24.5 7,18.7 8,12.8 9,18.7 10,24.5 11,27.4 12,28.9 13,30.4 14,31.8 15,33.2 16,26 17,18.7 18,44.9 19,5 20,-34.9"/>
</g></g>
<path class="tk" d="M117 2194.6v-8M508.75 2194.6v-8M900.5 2194.6v-8M1292.25 2194.6v-8M1684 2194.6v-8M117 1972v8M508.75 1972v8M900.5 1972v8M1292.25 1972v8M1684 1972v8M117 2016.5h8M117 2061h8M117 2105.6h8M117 2150.1h8M1684 2016.5h-8M1684 2061h-8M1684 2105.6h-8M1684 2150.1h-8"/>
<rect class="ax" x="117" y="1972" width="1567" height="222.6"/>
<rect x="1606" y="1978.7" width="70" height="72" fill="#fff" stroke="#000" stroke-width="2"/>
<line x1="1615" y1="1992.7" x2="1637" y2="1992.7" stroke="#f00" stroke-width="2"/><text class="lg" x="1652" y="1997.7">Vr</text>
<line x1="1615" y1="2014.7" x2="1637" y2="2014.7" stroke="#008000" stroke-width="2"/><text class="lg" x="1652" y="2019.7">Vt</text>
<line x1="1615" y1="2036.7" x2="1637" y2="2036.7" stroke="#00f" stroke-width="2"/><text class="lg" x="1652" y="2041.7">Vn</text>
<text class="e" x="107" y="1978">400</text><text class="e" x="107" y="2022.5">300</text><text class="e" x="107" y="2067">200</text><text class="e" x="107" y="2111.6">100</text><text class="e" x="107" y="2156.1">0</text><text class="e" x="107" y="2200.6">&#8722;100</text>
<text class="c" x="117" y="2216.6">04/04 04:59:05</text><text class="c" x="508.75" y="2216.6">04/04 04:59:10</text><text class="c" x="900.5" y="2216.6">04/04 04:59:15</text><text class="c" x="1292.25" y="2216.6">04/04 04:59:20</text><text class="c" x="1684" y="2216.6">04/04 04:59:25</text>
<text class="c" transform="translate(40,2083.3) rotate(-90)" y="6">Vsw(km/s)</text>

<!-- ================= TS4: Plasma Beta ================= -->
<text class="ttl" x="900.5" y="2295.7">Plasma Beta</text>
<g clip-path="url(#t4)"><g transform="translate(117,2528.3) scale(78.35,-1855)">
<polyline class="ln b" points="0,0.0926 1,0.0788 2,0.0872 3,0.0935 4,0.0912 5,0.0927 6,0.0942 7,0.0968 8,0.0933 9,0.0952 10,0.098 11,0.102 12,0.0963 13,0.0884 14,0.0982 15,0.105 16,0.0998 17,0.0959 18,0.1015 19,0.0478 20,0.0098"/>
</g></g>
<path class="tk" d="M117 2528.3v-8M508.75 2528.3v-8M900.5 2528.3v-8M1292.25 2528.3v-8M1684 2528.3v-8M117 2305.7v8M508.75 2305.7v8M900.5 2305.7v8M1292.25 2305.7v8M1684 2305.7v8M117 2342.8h8M117 2379.9h8M117 2417h8M117 2454.1h8M117 2491.2h8M1684 2342.8h-8M1684 2379.9h-8M1684 2417h-8M1684 2454.1h-8M1684 2491.2h-8"/>
<rect class="ax" x="117" y="2305.7" width="1567" height="222.6"/>
<text class="e" x="107" y="2311.7">0.12</text><text class="e" x="107" y="2348.8">0.10</text><text class="e" x="107" y="2385.9">0.08</text><text class="e" x="107" y="2423">0.06</text><text class="e" x="107" y="2460.1">0.04</text><text class="e" x="107" y="2497.2">0.02</text><text class="e" x="107" y="2534.3">0.00</text>
<text class="c" x="117" y="2550.3">04/04 04:59:05</text><text class="c" x="508.75" y="2550.3">04/04 04:59:10</text><text class="c" x="900.5" y="2550.3">04/04 04:59:15</text><text class="c" x="1292.25" y="2550.3">04/04 04:59:20</text><text class="c" x="1684" y="2550.3">04/04 04:59:25</text>
<text class="c" transform="translate(48,2417) rotate(-90)" y="6"><tspan class="m">&#946;</tspan><tspan class="m" font-size="11" dy="3">p</tspan></text>

<!-- ================= TS5: Proton Number Density ================= -->
<text class="ttl" x="900.5" y="2629.4">Proton Number Density</text>
<g clip-path="url(#t5)"><g transform="translate(117,3084.6) scale(78.35,-6.36)">
<polyline class="ln b" points="0,56.6 1,55.85 2,59.3 3,62.8 4,63.4 5,65.8 6,68.2 7,65.1 8,61.9 9,64.3 10,66.6 11,67.1 12,64.9 13,62.6 14,64.4 15,66.1 16,65.3 17,64.5 18,64.5 19,52.2 20,39.8"/>
</g></g>
<path class="tk" d="M117 2862v-8M508.75 2862v-8M900.5 2862v-8M1292.25 2862v-8M1684 2862v-8M117 2639.4v8M508.75 2639.4v8M900.5 2639.4v8M1292.25 2639.4v8M1684 2639.4v8M117 2671.2h8M117 2703h8M117 2734.8h8M117 2766.6h8M117 2798.4h8M117 2830.2h8M1684 2671.2h-8M1684 2703h-8M1684 2734.8h-8M1684 2766.6h-8M1684 2798.4h-8M1684 2830.2h-8"/>
<rect class="ax" x="117" y="2639.4" width="1567" height="222.6"/>
<text class="e" x="107" y="2645.4">70</text><text class="e" x="107" y="2677.2">65</text><text class="e" x="107" y="2709">60</text><text class="e" x="107" y="2740.8">55</text><text class="e" x="107" y="2772.6">50</text><text class="e" x="107" y="2804.4">45</text><text class="e" x="107" y="2836.2">40</text><text class="e" x="107" y="2868">35</text>
<text class="c" x="117" y="2884">04/04 04:59:05</text><text class="c" x="508.75" y="2884">04/04 04:59:10</text><text class="c" x="900.5" y="2884">04/04 04:59:15</text><text class="c" x="1292.25" y="2884">04/04 04:59:20</text><text class="c" x="1684" y="2884">04/04 04:59:25</text>
<text class="c" transform="translate(65,2750.7) rotate(-90)" y="6">Np(#/cc)</text>

<!-- ================= TS6: Proton Temperature ================= -->
<text class="ttl" x="900.5" y="2963.1">Proton Temperature and <tspan class="m">T</tspan><tspan class="m" font-size="14" dy="4">e</tspan><tspan class="m" dy="-4">/T</tspan><tspan class="m" font-size="14" dy="4">p</tspan></text>
<g clip-path="url(#t6)"><g transform="translate(117,3223.5) scale(78.35,-1391.25)">
<polyline class="ln b" points="0,0.1637 1,0.1406 2,0.143 3,0.1453 4,0.1416 5,0.138 6,0.1344 7,0.1402 8,0.1459 9,0.1416 10,0.1372 11,0.1419 12,0.1396 13,0.1372 14,0.1452 15,0.1531 16,0.1472 17,0.1413 18,0.1516 19,0.0874 20,0.0231"/>
</g></g>
<path class="tk" d="M117 3195.7v-8M508.75 3195.7v-8M900.5 3195.7v-8M1292.25 3195.7v-8M1684 3195.7v-8M117 2973.1v8M508.75 2973.1v8M900.5 2973.1v8M1292.25 2973.1v8M1684 2973.1v8M117 3000.9h8M117 3028.8h8M117 3056.6h8M117 3084.4h8M117 3112.2h8M117 3140.1h8M117 3167.9h8M1684 3000.9h-8M1684 3028.8h-8M1684 3056.6h-8M1684 3084.4h-8M1684 3112.2h-8M1684 3140.1h-8M1684 3167.9h-8"/>
<rect class="ax" x="117" y="2973.1" width="1567" height="222.6"/>
<rect x="124" y="2980.3" width="71.5" height="27.4" fill="#fff" stroke="#000" stroke-width="2"/>
<line x1="136" y1="2993" x2="156" y2="2993" stroke="#00f" stroke-width="2"/><text class="lg" x="170" y="2998.5">Tp</text>
<text class="e" x="107" y="2979.1">0.18</text><text class="e" x="107" y="3006.9">0.16</text><text class="e" x="107" y="3034.8">0.14</text><text class="e" x="107" y="3062.6">0.12</text><text class="e" x="107" y="3090.4">0.10</text><text class="e" x="107" y="3118.2">0.08</text><text class="e" x="107" y="3146.1">0.06</text><text class="e" x="107" y="3173.9">0.04</text><text class="e" x="107" y="3201.7">0.02</text>
<text class="c" x="117" y="3217.7">04/04 04:59:05</text><text class="c" x="508.75" y="3217.7">04/04 04:59:10</text><text class="c" x="900.5" y="3217.7">04/04 04:59:15</text><text class="c" x="1292.25" y="3217.7">04/04 04:59:20</text><text class="c" x="1684" y="3217.7">04/04 04:59:25</text>
<text class="c" transform="translate(46,3084.4) rotate(-90)" y="6">Tp(10<tspan font-size="11" dy="-6">6</tspan><tspan dy="6">K)</tspan></text>
</svg>
</body></html>
